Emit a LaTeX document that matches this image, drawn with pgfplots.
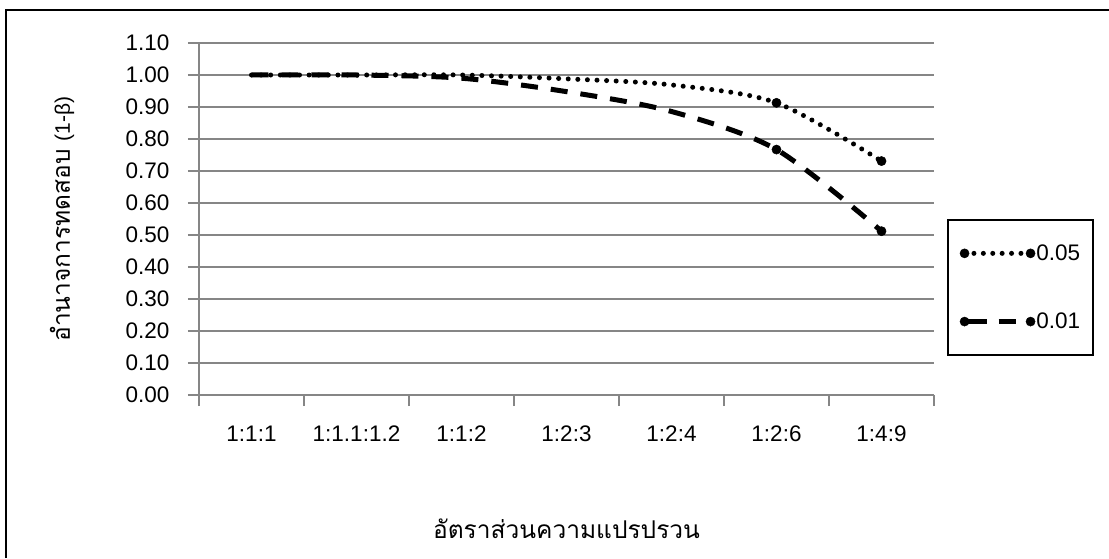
\documentclass[border=0pt]{standalone}
\usepackage{fontspec}
\setmainfont{Liberation Sans}
\newfontfamily\thaifont[Script=Thai]{Loma}
\usepackage{pgfplots}
\pgfplotsset{compat=1.18}
\definecolor{gridgray}{HTML}{868686}
\begin{document}
\begin{tikzpicture}[x=1pt,y=1pt]
\path[use as bounding box] (0,0) rectangle (1109,558);
\draw[line width=2.2pt] (6,0) -- (6,548) -- (1109,548);
\begin{axis}[
  at={(199pt,163pt)}, anchor=south west,
  scale only axis, width=735pt, height=352pt,
  xmin=0, xmax=7, ymin=0, ymax=1.1,
  axis lines=left,
  axis line style={-, gridgray, line width=1.3pt},
  ytick={0,0.1,0.2,0.3,0.4,0.5,0.6,0.7,0.8,0.9,1.0,1.1},
  yticklabel style={/pgf/number format/fixed, /pgf/number format/fixed zerofill, /pgf/number format/precision=2, xshift=-15pt},
  /pgf/number format/assume math mode=true,
  ymajorgrids, grid style={gridgray, line width=1.3pt},
  tick style={gridgray, line width=1.3pt},
  major tick length=11pt, tick align=outside,
  xtick={0,1,2,3,4,5,6,7}, xticklabels={},
  extra x ticks={0.5,1.5,2.5,3.5,4.5,5.5,6.5},
  extra x tick labels={1:1:1,1:1.1:1.2,1:1:2,1:2:3,1:2:4,1:2:6,1:4:9},
  extra x tick style={major tick length=0pt, xticklabel style={yshift=-27pt}},
  tick label style={font=\fontsize{22.5}{26}\selectfont},
  xlabel={\thaifont อัตราส่วนความแปรปรวน},
  xlabel style={at={(axis description cs:0.5,-0.381)}, anchor=center, font=\fontsize{24.5}{29}\selectfont},
  ylabel={\thaifont อำนาจการทดสอบ {\rmfamily\fontsize{21}{25}\selectfont(1-β)}},
  ylabel style={at={(axis description cs:-0.1864,0.5)}, anchor=center, font=\fontsize{24.5}{29}\selectfont},
  legend style={at={(1.0177,0.5)}, anchor=north west, draw=black, line width=1.5pt,
    font=\fontsize{22.5}{26}\selectfont, inner xsep=12pt, inner ysep=21pt, row sep=43pt,
    nodes={inner xsep=1pt, inner ysep=4pt}},
  legend cell align=left,
]
\addplot[black, line width=5pt, line cap=round, dash pattern=on 0pt off 9.6pt, smooth, tension=0.5,
  mark=*, mark indices={6,7}, mark options={solid, line width=0.5pt, fill=black, mark size=4.6pt},
  legend image code/.code={
    \draw[black, line width=5pt, line cap=round, dash pattern=on 0pt off 9.4pt] (0pt,0pt) -- (66pt,0pt);
    \draw[black, solid, fill=black, line width=0.4pt] (0pt,0pt) circle [radius=4.6pt];
    \draw[black, solid, fill=black, line width=0.4pt] (66pt,0pt) circle [radius=4.6pt];}]
coordinates {(0.5,1.00) (1.5,1.00) (2.5,1.00) (3.5,0.988) (4.5,0.969) (5.5,0.913) (6.5,0.731)};
\addlegendentry{0.05}
\addplot[black, line width=5pt, dash pattern=on 17pt off 13pt, smooth, tension=0.5,
  mark=*, mark indices={6,7}, mark options={solid, line width=0.5pt, fill=black, mark size=4.6pt},
  legend image code/.code={
    \draw[black, line width=5pt, dash pattern=on 22pt off 12pt on 17pt off 30pt] (0pt,0pt) -- (66pt,0pt);
    \draw[black, solid, fill=black, line width=0.4pt] (0pt,0pt) circle [radius=4.6pt];
    \draw[black, solid, fill=black, line width=0.4pt] (66pt,0pt) circle [radius=4.6pt];}]
coordinates {(0.5,1.00) (1.5,1.00) (2.5,0.990) (3.5,0.948) (4.5,0.886) (5.5,0.767) (6.5,0.512)};
\addlegendentry{0.01}
\end{axis}
\end{tikzpicture}
\end{document}
